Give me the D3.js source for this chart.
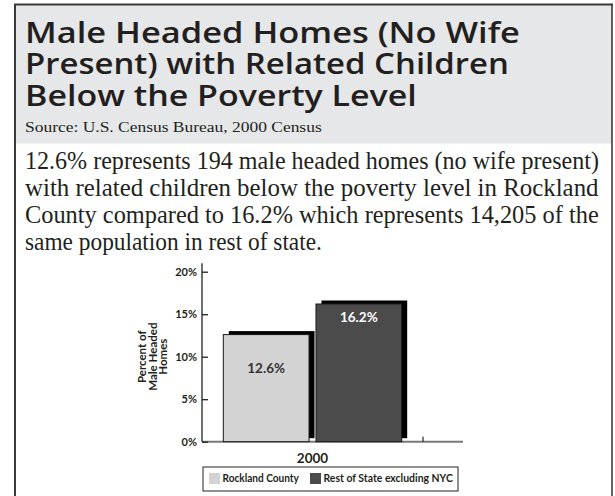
<!DOCTYPE html>
<html>
<head>
<meta charset="utf-8">
<script src="https://cdn.jsdelivr.net/npm/d3@7"></script>
<style>
  html, body { margin: 0; padding: 0; background: #fff; }
  svg { display: block; }
</style>
</head>
<body>
<svg id="chart" width="615" height="496"></svg>
<script>
// ---- data ----
const titleLines = ["Male Headed Homes (No Wife", "Present) with Related Children", "Below the Poverty Level"];
const sourceText = "Source:  U.S. Census Bureau, 2000 Census";
const paragraphLines = [
  "12.6% represents 194 male headed homes (no wife present)",
  "with related children below the poverty level in Rockland",
  "County compared to 16.2% which represents 14,205 of  the",
  "same population in rest of  state."
];
const categories = ["2000"];
const seriesNames = ["Rockland County", "Rest of State excluding NYC"];
const seriesValues = [12.6, 16.2];
const valueLabels = ["12.6%", "16.2%"];
const yTicks = [0, 5, 10, 15, 20];
const yTickLabels = ["0%", "5%", "10%", "15%", "20%"];
const yAxisTitle = ["Percent of", "Male Headed", "Homes"];

// ---- styles ----
const seriesFill = ["#d3d3d3", "#4b4b4b"];
const labelColor = ["#333333", "#ffffff"];
const labelOffset = [35, 15];
const titleFont = "'Open Sans', Lato, sans-serif";
const chartFont = "Lato, 'Noto Sans', sans-serif";
const serifFont = "'Liberation Serif', 'DejaVu Serif', serif";
const ink = "#231f20";

const svg = d3.select("#chart");

// fit a text horizontally between x and xEnd by scaling it (keeps bbox honest)
function fitText(sel, x, y, xEnd) {
  sel.attr("x", 0).attr("y", 0);
  const w = sel.node().getComputedTextLength();
  const k = (xEnd - x) / w;
  sel.attr("transform", `translate(${x},${y}) scale(${k},1)`);
}

// frame + header
svg.append("rect").attr("x", 15).attr("y", 4.5).attr("width", 597).attr("height", 139).attr("fill", "#e6e7e8");
svg.append("line").attr("x1", 14).attr("x2", 613).attr("y1", 4.5).attr("y2", 4.5).attr("stroke", "#3a3a3a").attr("stroke-width", 2);
svg.append("line").attr("x1", 15).attr("x2", 15).attr("y1", 4).attr("y2", 496).attr("stroke", "#3a3a3a").attr("stroke-width", 2);
svg.append("line").attr("x1", 612).attr("x2", 612).attr("y1", 4).attr("y2", 496).attr("stroke", "#3a3a3a").attr("stroke-width", 1.6);

const titleEnds = [520, 509, 417];
const titleBase = [42.5, 74, 105.5];
svg.append("g").selectAll("text").data(titleLines).join("text")
  .attr("font-family", titleFont).attr("font-weight", 600).attr("font-size", 29)
  .attr("fill", ink).text(d => d)
  .each(function (d, i) { fitText(d3.select(this), 25, titleBase[i], titleEnds[i]); });

const src = svg.append("text")
  .attr("font-family", serifFont).attr("font-size", 15).attr("fill", ink).text(sourceText);
fitText(src, 25, 131.5, 322);

const paraEnds = [599, 599, 599, 322];
svg.append("g").selectAll("text").data(paragraphLines).join("text")
  .attr("font-family", serifFont).attr("font-size", 26).attr("fill", ink).text(d => d)
  .each(function (d, i) { fitText(d3.select(this), 25, 168.5 + i * 27, paraEnds[i]); });

// ---- chart ----
const y = d3.scaleLinear().domain([0, 20]).range([441.7, 271.7]);
const x0 = d3.scaleBand().domain(categories).range([202, 423]);
const x1 = d3.scaleBand().domain(seriesNames).range([0, x0.bandwidth()]).paddingInner(0.075).paddingOuter(0.23);

const plot = svg.append("g");

// x baseline
plot.append("line").attr("x1", x0.range()[0]).attr("x2", 463).attr("y1", y(0)).attr("y2", y(0))
  .attr("stroke", "#7a7a7a").attr("stroke-width", 2);
plot.append("line").attr("x1", x0.range()[1]).attr("x2", x0.range()[1]).attr("y1", y(0)).attr("y2", y(0) - 5)
  .attr("stroke", "#222").attr("stroke-width", 1.2);

const groups = plot.selectAll("g.cat").data(categories).join("g")
  .attr("class", "cat").attr("transform", d => `translate(${x0(d)},0)`);

const barData = seriesNames.map((s, i) => ({ s, i, v: seriesValues[i] }));

// shadows
groups.selectAll("rect.shadow").data(barData).join("rect").attr("class", "shadow")
  .attr("x", d => x1(d.s) + 5.5).attr("y", d => y(d.v) - 3.5)
  .attr("width", x1.bandwidth()).attr("height", d => y(0) - y(d.v))
  .attr("fill", "#000");
// bars
groups.selectAll("rect.bar").data(barData).join("rect").attr("class", "bar")
  .attr("x", d => x1(d.s)).attr("y", d => y(d.v))
  .attr("width", x1.bandwidth()).attr("height", d => y(0) - y(d.v))
  .attr("fill", d => seriesFill[d.i]).attr("stroke", "#1a1a1a").attr("stroke-width", 1);
// value labels
groups.selectAll("text.val").data(barData).join("text").attr("class", "val")
  .attr("x", d => x1(d.s) + x1.bandwidth() / 2).attr("y", d => y(d.v) + labelOffset[d.i])
  .attr("text-anchor", "middle").attr("dominant-baseline", "middle")
  .attr("font-family", chartFont).attr("font-weight", 700).attr("font-size", 13.5)
  .attr("fill", d => labelColor[d.i]).text(d => valueLabels[d.i]);

// y axis
const yAxis = d3.axisLeft(y).tickValues(yTicks).tickFormat((d, i) => yTickLabels[i])
  .tickSizeInner(-6).tickSizeOuter(0).tickPadding(5);
const ya = svg.append("g").attr("transform", "translate(202,0)").call(yAxis);
ya.select(".domain").remove();
ya.append("line").attr("x1", 0).attr("x2", 0).attr("y1", y(0)).attr("y2", y(21)).attr("stroke", "#222").attr("stroke-width", 1.3);
ya.selectAll(".tick line").attr("stroke", "#222").attr("stroke-width", 1.3);
ya.selectAll(".tick text").attr("font-family", chartFont).attr("font-weight", 700).attr("font-size", 11).attr("fill", ink);

// y title
const yt = svg.append("text").attr("transform", `translate(153,${y(10)}) rotate(-90)`)
  .attr("text-anchor", "middle").attr("font-family", chartFont).attr("font-weight", 700)
  .attr("font-size", 11.5).attr("fill", ink);
yt.selectAll("tspan").data(yAxisTitle).join("tspan")
  .attr("x", 0).attr("dy", (d, i) => i === 0 ? -7 : 10.5).text(d => d);

// category label
svg.append("g").selectAll("text").data(categories).join("text")
  .attr("x", d => x0(d) + x0.bandwidth() / 2).attr("y", 463)
  .attr("text-anchor", "middle").attr("font-family", chartFont).attr("font-weight", 700)
  .attr("font-size", 13.5).attr("fill", ink).text(d => d);

// legend
const lg = svg.append("g");
lg.append("rect").attr("x", 203).attr("y", 467).attr("width", 255).attr("height", 24)
  .attr("fill", "#fff").attr("stroke", "#222").attr("stroke-width", 1);
const legX = [209, 310];
const legTextEnd = [299, 453];
const items = lg.selectAll("g").data(seriesNames).join("g");
items.append("rect").attr("x", (d, i) => legX[i]).attr("y", 473).attr("width", 11).attr("height", 11)
  .attr("fill", (d, i) => seriesFill[i]);
items.append("text")
  .attr("font-family", chartFont).attr("font-weight", 700).attr("font-size", 11.5).attr("fill", ink)
  .text(d => d)
  .each(function (d, i) { fitText(d3.select(this), legX[i] + 13.5, 482, legTextEnd[i]); });
</script>
</body>
</html>
